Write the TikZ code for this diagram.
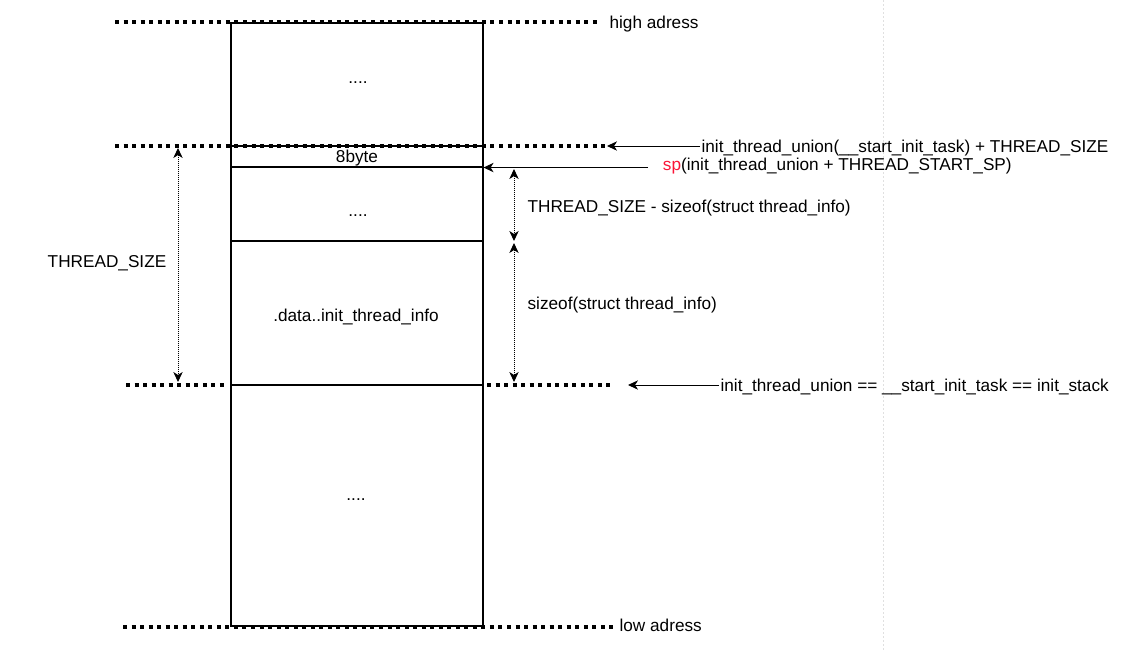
\documentclass[tikz,border=0pt]{standalone}
\usepackage{fontspec}
\setmainfont{Liberation Sans}
\usepackage{xcolor}
\usepackage{tikz}
\usetikzlibrary{positioning,arrows.meta}
\definecolor{spred}{RGB}{250,20,55}

\begin{document}
\begin{tikzpicture}[x=0.75pt, y=-0.75pt, >={Stealth[length=7.5pt,width=7pt,inset=2.2pt]},
	font=\fontsize{12.9}{15}\selectfont,
	mem/.style={draw, line width=0.8pt, minimum width=189pt, inner sep=0pt},
	bound/.style={line width=2.4pt, dash pattern=on 3pt off 3.4pt},
	size/.style={<->, line width=0.75pt, dash pattern=on 0.75pt off 0.75pt},
	lab/.style={inner sep=1pt, anchor=west}]
			\useasboundingbox (0,0) rectangle (1121,650);
			\draw[black!12, line width=0.75pt, dash pattern=on 1.5pt off 1.5pt] (883,0) -- (883,650);

			% memory blocks
			\node[mem, minimum height=92.25pt] (top) at (357,84.5) {};
			\node[mem, minimum height=15.75pt] (b8) at (357,156.5) {};
			\node[mem, minimum height=55.5pt] (mid) at (357,204) {};
			\node[mem, minimum height=108pt] (data) at (357,313) {};
			\node[mem, minimum height=180.75pt] (bot) at (357,505.5) {};
			\node (t8) at (357,158) {8byte};
			\node (tdata) at (356,317) {.data..init\_thread\_info};
			\node (dots1) at (358,83) {....};
			\node (dots2) at (358,216) {....};
			\node (dots3) at (356,500) {....};

			% address bounds
			\draw[bound] (115,22) -- (598,22);
			\draw[bound] (115,146) -- (605,146);
			\draw[bound] (126,385) -- (224,385);
			\draw[bound] (487,385) -- (612,385);
			\draw[bound] (123,627) -- (613,627);
			\node[lab] (hi) at (608,24) {high adress};
			\node[lab] (lo) at (618,625) {low adress};

			% pointers
			\coordinate (tipA) at (607,146);
			\coordinate (tipB) at (628,385);
			\node[lab] (union) at (700,148) {init\_thread\_union(\_\_start\_init\_task) + THREAD\_SIZE};
			\node[lab, inner xsep=11pt] (sp) at (648,166) {\textcolor{spred}{sp}(init\_thread\_union + THREAD\_START\_SP)};
			\node[lab] (stack) at (719,387) {init\_thread\_union == \_\_start\_init\_task == init\_stack};
			\draw[->, line width=0.75pt] (union.west |- tipA) -- (tipA);
			\draw[->, line width=0.75pt] (sp.west |- b8.south east) -- (b8.south east);
			\draw[->, line width=0.75pt] (stack.west |- tipB) -- (tipB);

			% sizes
			\coordinate (tsTop) at (178,148);
			\coordinate (tsBot) at (178,382);
			\coordinate (freeTop) at (514,169);
			\coordinate (freeBot) at (514,241);
			\coordinate (infoTop) at (514,243);
			\coordinate (infoBot) at (514,382);
			\draw[size] (tsTop) -- (tsBot);
			\draw[size] (freeTop) -- (freeBot);
			\draw[size] (infoTop) -- (infoBot);
			\node (tsz) at (107,263) {THREAD\_SIZE};
			\node[lab] (free) at (526,208) {THREAD\_SIZE - sizeof(struct thread\_info)};
			\node[lab] (info) at (526,305) {sizeof(struct thread\_info)};
		\end{tikzpicture}
\end{document}
